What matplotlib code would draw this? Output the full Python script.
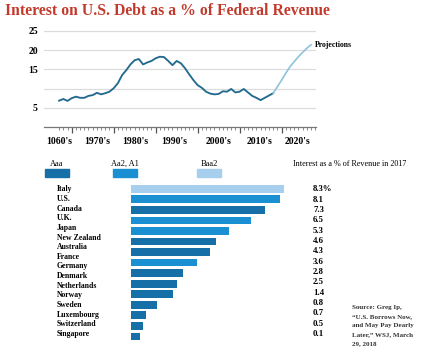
import matplotlib
matplotlib.use('Agg')
import matplotlib.pyplot as plt
from matplotlib.patches import Rectangle

# ---------------- data ----------------
years_actual = list(range(1967, 2019))
interest_actual = [6.85, 7.3, 6.8, 7.5, 7.9, 7.6, 7.6, 8.1, 8.3, 8.9,
                   8.5, 8.8, 9.2, 10.1, 11.4, 13.5, 14.8, 16.3, 17.4, 17.7,
                   16.3, 16.8, 17.2, 17.9, 18.3, 18.2, 17.2, 16.1, 17.2, 16.6,
                   15.3, 13.7, 12.2, 10.9, 10.2, 9.2, 8.7, 8.5, 8.6, 9.3,
                   9.2, 9.9, 9.0, 9.2, 9.9, 9.0, 8.1, 7.6, 7.0, 7.6,
                   8.2, 8.8]
years_proj = [2018, 2019, 2020, 2021, 2022, 2023, 2024, 2025, 2026, 2027]
interest_proj = [8.8, 10.5, 12.2, 14.0, 15.7, 17.0, 18.3, 19.4, 20.5, 21.4]
y_tick_values = [25, 20, 15, 5]
decade_labels = ["1060's", "1970's", "1980's", "1990's", "2000's", "2010's", "2020's"]
decade_label_pos = [1967.0, 1976.0, 1985.1, 1994.4, 2005.1, 2014.7, 2023.9]

countries = ["Italy", "U.S.", "Canada", "U.K.", "Japan", "New Zealand", "Australia",
             "France", "Germany", "Denmark", "Netherlands", "Norway", "Sweden",
             "Luxembourg", "Switzerland", "Singapore"]
bar_values = [8.3, 8.1, 7.3, 6.5, 5.3, 4.6, 4.3, 3.6, 2.8, 2.5, 2.3, 1.4, 0.8, 0.65, 0.5]
bar_ratings = ["Baa2", "Aa2, A1", "Aaa", "Aa2, A1", "Aa2, A1", "Aaa", "Aaa",
               "Aa2, A1", "Aaa", "Aaa", "Aaa", "Aaa", "Aaa", "Aaa", "Aaa"]
value_labels = ["8.3%", "8.1", "7.3", "6.5", "5.3", "4.6", "4.3", "3.6", "2.8",
                "2.5", "1.4", "0.8", "0.7", "0.5", "0.1"]
legend_ratings = ["Aaa", "Aa2, A1", "Baa2"]
rating_colors = {"Aaa": "#1670a7", "Aa2, A1": "#1a8fd2", "Baa2": "#a6cfee"}
source_lines = ["Source: Greg Ip,", "\u201cU.S. Borrows Now,", "and May Pay Dearly",
                "Later,\u201d WSJ, March", "29, 2018"]

# ---------------- layout helpers ----------------
W, H = 423, 354
fig = plt.figure(figsize=(W / 100, H / 100), dpi=100)
SERIF = ['Liberation Serif', 'DejaVu Serif']


def box(l, t, r, b):
    return [l / W, 1 - b / H, (r - l) / W, (b - t) / H]


def fx(x):
    return x / W


def fy(y):
    return 1 - y / H


# title
fig.text(fx(5), fy(11), "Interest on U.S. Debt as a % of Federal Revenue",
         family=SERIF, weight='bold', fontsize=11.3, color='#c23a2b',
         ha='left', va='center')

# ---------------- top line chart ----------------
ax = fig.add_axes(box(44, 27, 316, 127))
ax.set_xlim(1963.4, 2028.2)
ax.set_ylim(0, 26.04)
for s in ['top', 'right', 'left']:
    ax.spines[s].set_visible(False)
ax.spines['bottom'].set_color('#777777')
ax.spines['bottom'].set_linewidth(0.9)
ax.set_yticks(y_tick_values + [10])
ax.set_yticklabels([str(v) for v in y_tick_values] + [''], family=SERIF,
                   weight='bold', fontsize=7)
ax.tick_params(axis='y', length=0, pad=4.5)
ax.grid(axis='y', color='#dcdcdc', linewidth=0.9)
ax.set_axisbelow(True)
ax.set_xticks(range(1970, 2030, 10))
ax.set_xticklabels([])
ax.set_xticks(range(1967, 2029), minor=True)
ax.tick_params(axis='x', which='major', length=4, width=0.9, color='#555555')
ax.tick_params(axis='x', which='minor', length=2, width=0.6, color='#777777')
ax.plot(years_actual, interest_actual, color='#236b8e', linewidth=1.35,
        solid_joinstyle='round', zorder=3)
ax.plot(years_proj, interest_proj, color='#8ec3dd', linewidth=1.2, zorder=3)
for lab, pos in zip(decade_labels, decade_label_pos):
    ax.text(pos, -3.8, lab, family=SERIF, weight='bold', fontsize=7,
            ha='center', va='center', clip_on=False)
ax.text(2027.9, 21.4, "Projections", family=SERIF, weight='bold', fontsize=5.6,
        ha='left', va='center', clip_on=False)

# ---------------- bar chart ----------------
bx = fig.add_axes(box(131, 180, 300, 345))
bx.set_xlim(0, 169 / 18.4)
bx.set_ylim(14.82, -0.835)
bx.axis('off')
idx = list(range(len(bar_values)))
bx.barh(idx, bar_values, height=0.73,
        color=[rating_colors[r] for r in bar_ratings])

# legend
leg_x = [57, 125, 209]
for lab, cx in zip(legend_ratings, leg_x):
    fig.text(fx(cx), fy(164), lab, family=SERIF, fontsize=6, ha='center', va='center')
    fig.add_artist(Rectangle((fx(cx - 12), fy(177)), 24 / W, 8 / H,
                             transform=fig.transFigure, color=rating_colors[lab]))
fig.text(fx(293), fy(164), "Interest as a % of Revenue in 2017", family=SERIF,
         fontsize=5.9, ha='left', va='center')

# country labels
for i, c in enumerate(countries):
    fig.text(fx(57), fy(189.3 + 9.65 * i), c, family=SERIF, weight='bold',
             fontsize=5.6, ha='left', va='center')
# value labels
for i, v in enumerate(value_labels):
    fig.text(fx(313), fy(189.3 + 10.34 * i), v, family=SERIF, weight='bold',
             fontsize=6.3, ha='left', va='center')
# source
for i, s in enumerate(source_lines):
    fig.text(fx(352), fy(308 + 9 * i), s, family=SERIF, weight='bold',
             fontsize=5.0, ha='left', va='center', color='#333333')

fig.savefig('out.png', dpi=100)
